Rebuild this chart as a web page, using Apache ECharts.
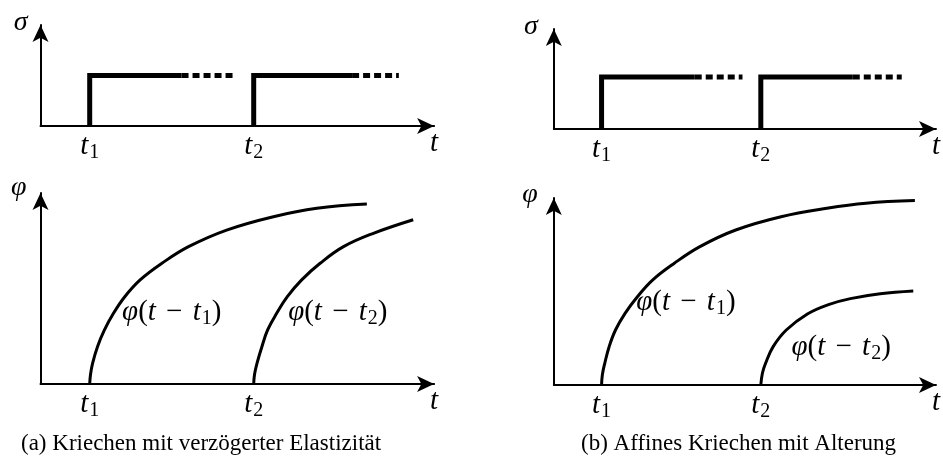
<!DOCTYPE html>
<html>
<head>
<meta charset="utf-8">
<script src="https://cdn.jsdelivr.net/npm/echarts@6/dist/echarts.min.js"></script>
<style>
  html, body { margin: 0; padding: 0; background: #ffffff; }
  #chart { width: 943px; height: 461px; }
</style>
</head>
<body>
<div id="chart"></div>
<script>
// Load moments and axis extent (time units)
const tMoments = [1.2, 5.2];          // t1, t2
const tLabels = ['1', '2'];           // subscripts of t1, t2
const tAxisEnd = 9.6;

// Constant stress level after each load step
const sigmaLevel = 1;

// Where the drawn stress plateau turns into dashes, and where the dashes stop
const plateauSolidEndA = [3.44, 7.6];
const plateauDashEndA = [4.72, 8.74];
const plateauSolidEndB = [3.54, 7.51];
const plateauDashEndB = [4.74, 8.74];

// Creep curves, [t, phi]
const phiA1 = [[1.2, 0], [1.22, 0.5], [1.27, 1.08], [1.39, 1.95], [1.56, 2.83], [1.78, 3.70], [2.06, 4.58], [2.43, 5.45], [2.96, 6.32], [3.61, 7.19], [4.54, 8.06], [5.68, 8.76], [6.74, 9.20], [7.96, 9.42]];
const phiA2 = [[5.2, 0], [5.22, 0.5], [5.28, 1.08], [5.40, 1.95], [5.54, 2.83], [5.76, 3.70], [6.02, 4.57], [6.37, 5.45], [6.82, 6.32], [7.39, 7.19], [8.12, 7.89], [9.09, 8.60]];
const phiB1 = [[1.2, 0], [1.22, 0.55], [1.28, 1.16], [1.39, 2.05], [1.55, 2.94], [1.79, 3.83], [2.10, 4.72], [2.48, 5.61], [3.02, 6.50], [3.67, 7.40], [4.57, 8.29], [5.71, 9.0], [6.86, 9.45], [7.84, 9.72], [9.07, 9.86]];
const phiB2 = [[5.2, 0], [5.24, 0.63], [5.32, 1.16], [5.51, 2.05], [5.84, 2.94], [6.37, 3.80], [6.9, 4.30], [7.45, 4.62], [8.2, 4.88], [9.03, 5.03]];

// Anchors (left-middle) of the curve annotations, [t, phi]
const curveNoteA = [[1.99, 3.77], [6.04, 3.77]];
const curveNoteB = [[2.07, 4.44], [5.97, 2.03]];

const captions = ['(a) Kriechen mit verzögerter Elastizität', '(b) Affines Kriechen mit Alterung'];

const INK = '#000000';
const SERIF = '"Liberation Serif", "DejaVu Serif", serif';

const mathRich = {
  i: { fontFamily: SERIF, fontStyle: 'italic', fontSize: 29, color: INK },
  r: { fontFamily: SERIF, fontSize: 29, color: INK },
  m: { fontFamily: SERIF, fontSize: 29, color: INK, padding: [0, 3, 0, 3] },
  s: { fontFamily: SERIF, fontSize: 20, color: INK, padding: [14, 0, 0, 1] }
};

function tickFormatter(v) {
  const k = tMoments.findIndex(m => Math.abs(m - v) < 1e-6);
  if (k >= 0) return '{i|t}{s|' + tLabels[k] + '}';
  return '{i|t}';
}

function xAxisFor(gridIndex) {
  return {
    type: 'value', gridIndex, min: 0, max: tAxisEnd,
    axisLine: { show: true, onZero: true, symbol: ['none', 'arrow'], symbolSize: [12, 17], lineStyle: { color: INK, width: 2 } },
    axisTick: { show: false },
    splitLine: { show: false },
    axisLabel: {
      show: true, customValues: tMoments.concat([tAxisEnd]), margin: 3,
      formatter: tickFormatter, rich: mathRich, verticalAlign: 'top', color: INK
    }
  };
}

function yAxisFor(gridIndex, max, name, gap, padRight) {
  return {
    type: 'value', gridIndex, min: 0, max,
    name, nameLocation: 'end', nameGap: gap,
    nameTextStyle: { fontFamily: SERIF, fontStyle: 'italic', fontSize: 28, color: INK, align: 'right', verticalAlign: 'middle', padding: [0, padRight, 0, 0] },
    axisLine: { show: true, symbol: ['none', 'arrow'], symbolSize: [12, 17], lineStyle: { color: INK, width: 2 } },
    axisTick: { show: false },
    splitLine: { show: false },
    axisLabel: { show: false }
  };
}

function stepSeries(axisIndex, solidEnd, dashEnd) {
  const out = [];
  tMoments.forEach((t, k) => {
    out.push({
      type: 'line', xAxisIndex: axisIndex, yAxisIndex: axisIndex, showSymbol: false, silent: true,
      data: [[t, 0], [t, sigmaLevel], [solidEnd[k], sigmaLevel]],
      lineStyle: { color: INK, width: 5, join: 'miter', cap: 'butt' }
    });
    out.push({
      type: 'line', xAxisIndex: axisIndex, yAxisIndex: axisIndex, showSymbol: false, silent: true,
      data: [[solidEnd[k], sigmaLevel], [dashEnd[k], sigmaLevel]],
      lineStyle: { color: INK, width: 5, type: [7, 4], cap: 'butt' }
    });
  });
  return out;
}

function curveSeries(axisIndex, pts) {
  return {
    type: 'line', xAxisIndex: axisIndex, yAxisIndex: axisIndex, showSymbol: false, silent: true,
    smooth: 0.4, data: pts,
    lineStyle: { color: INK, width: 3 }
  };
}

function noteSeries(axisIndex, anchors) {
  return {
    type: 'scatter', xAxisIndex: axisIndex, yAxisIndex: axisIndex, symbolSize: 0, silent: true,
    itemStyle: { color: INK, opacity: 1 },
    data: anchors.map((p, k) => ({ value: p, sub: tLabels[k] })),
    label: {
      show: true, position: 'right', distance: 0, color: INK, opacity: 1,
      formatter: p => '{i|φ}{r|(}{i|t}{m| − }{i|t}{s|' + p.data.sub + '}{r|)}',
      rich: mathRich
    }
  };
}

const chart = echarts.init(document.getElementById('chart'), null, { renderer: 'canvas' });
chart.setOption({
  backgroundColor: '#ffffff',
  animation: false,
  title: [
    { text: captions[0], left: 16, top: 427, textStyle: { fontFamily: SERIF, fontWeight: 'normal', fontSize: 23, color: INK } },
    { text: captions[1], left: 576, top: 427, textStyle: { fontFamily: SERIF, fontWeight: 'normal', fontSize: 23, color: INK } }
  ],
  grid: [
    { left: 40.5, top: 25, width: 393.6, height: 101 },
    { left: 40.5, top: 193, width: 393.6, height: 191 },
    { left: 553.8, top: 29, width: 391.2, height: 100 },
    { left: 553.8, top: 198, width: 391.2, height: 187 }
  ],
  xAxis: [xAxisFor(0), xAxisFor(1), xAxisFor(2), xAxisFor(3)],
  yAxis: [
    yAxisFor(0, 2, 'σ', 2, 13),
    yAxisFor(1, 10, 'φ', 5, 14),
    yAxisFor(2, 1.92, 'σ', 2, 16),
    yAxisFor(3, 10, 'φ', 3, 16)
  ],
  series: [].concat(
    stepSeries(0, plateauSolidEndA, plateauDashEndA),
    stepSeries(2, plateauSolidEndB, plateauDashEndB),
    [
      curveSeries(1, phiA1), curveSeries(1, phiA2),
      curveSeries(3, phiB1), curveSeries(3, phiB2),
      noteSeries(1, curveNoteA), noteSeries(3, curveNoteB)
    ]
  )
});
</script>
</body>
</html>
